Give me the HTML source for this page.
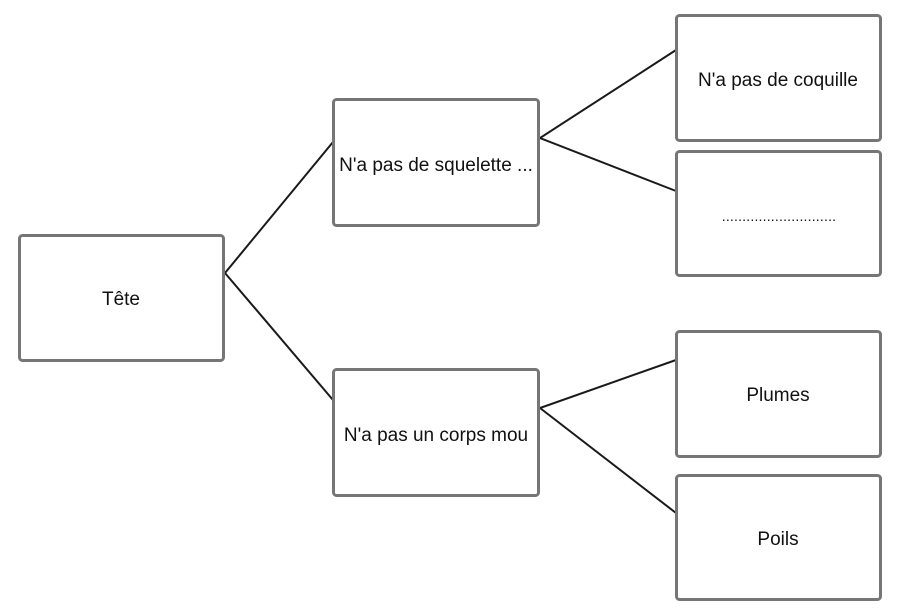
<!DOCTYPE html>
<html><head><meta charset="utf-8"><style>
html,body{margin:0;padding:0;background:#fff;width:907px;height:616px;overflow:hidden}
text{font-family:"Liberation Sans",sans-serif;font-size:19px;fill:#111}
</style></head><body>
<svg width="907" height="616" viewBox="0 0 907 616">
<g stroke="#1a1a1a" stroke-width="2" fill="none">
<polyline points="333,142 225,273 333,400"/>
<polyline points="676,50 540,138 676,191"/>
<polyline points="676,360 540,408 676,513"/>
</g>
<g stroke="#767676" stroke-width="3" fill="#fff">
<rect x="19.5" y="235.5" width="204" height="125" rx="3"/>
<rect x="333.5" y="99.5" width="205" height="126" rx="3"/>
<rect x="333.5" y="369.5" width="205" height="126" rx="3"/>
<rect x="676.5" y="15.5" width="204" height="125" rx="3"/>
<rect x="676.5" y="151.5" width="204" height="124" rx="3"/>
<rect x="676.5" y="331.5" width="204" height="125" rx="3"/>
<rect x="676.5" y="475.5" width="204" height="124" rx="3"/>
</g>
<g text-anchor="middle">
<text x="121" y="305">Tête</text>
<text x="436" y="171">N'a pas de squelette ...</text>
<text x="436" y="441">N'a pas un corps mou</text>
<text x="778" y="86">N'a pas de coquille</text>
<text x="779" y="221" style="font-size:14px;letter-spacing:0.2px">............................</text>
<text x="778" y="401">Plumes</text>
<text x="778" y="545">Poils</text>
</g>
</svg>
</body></html>
